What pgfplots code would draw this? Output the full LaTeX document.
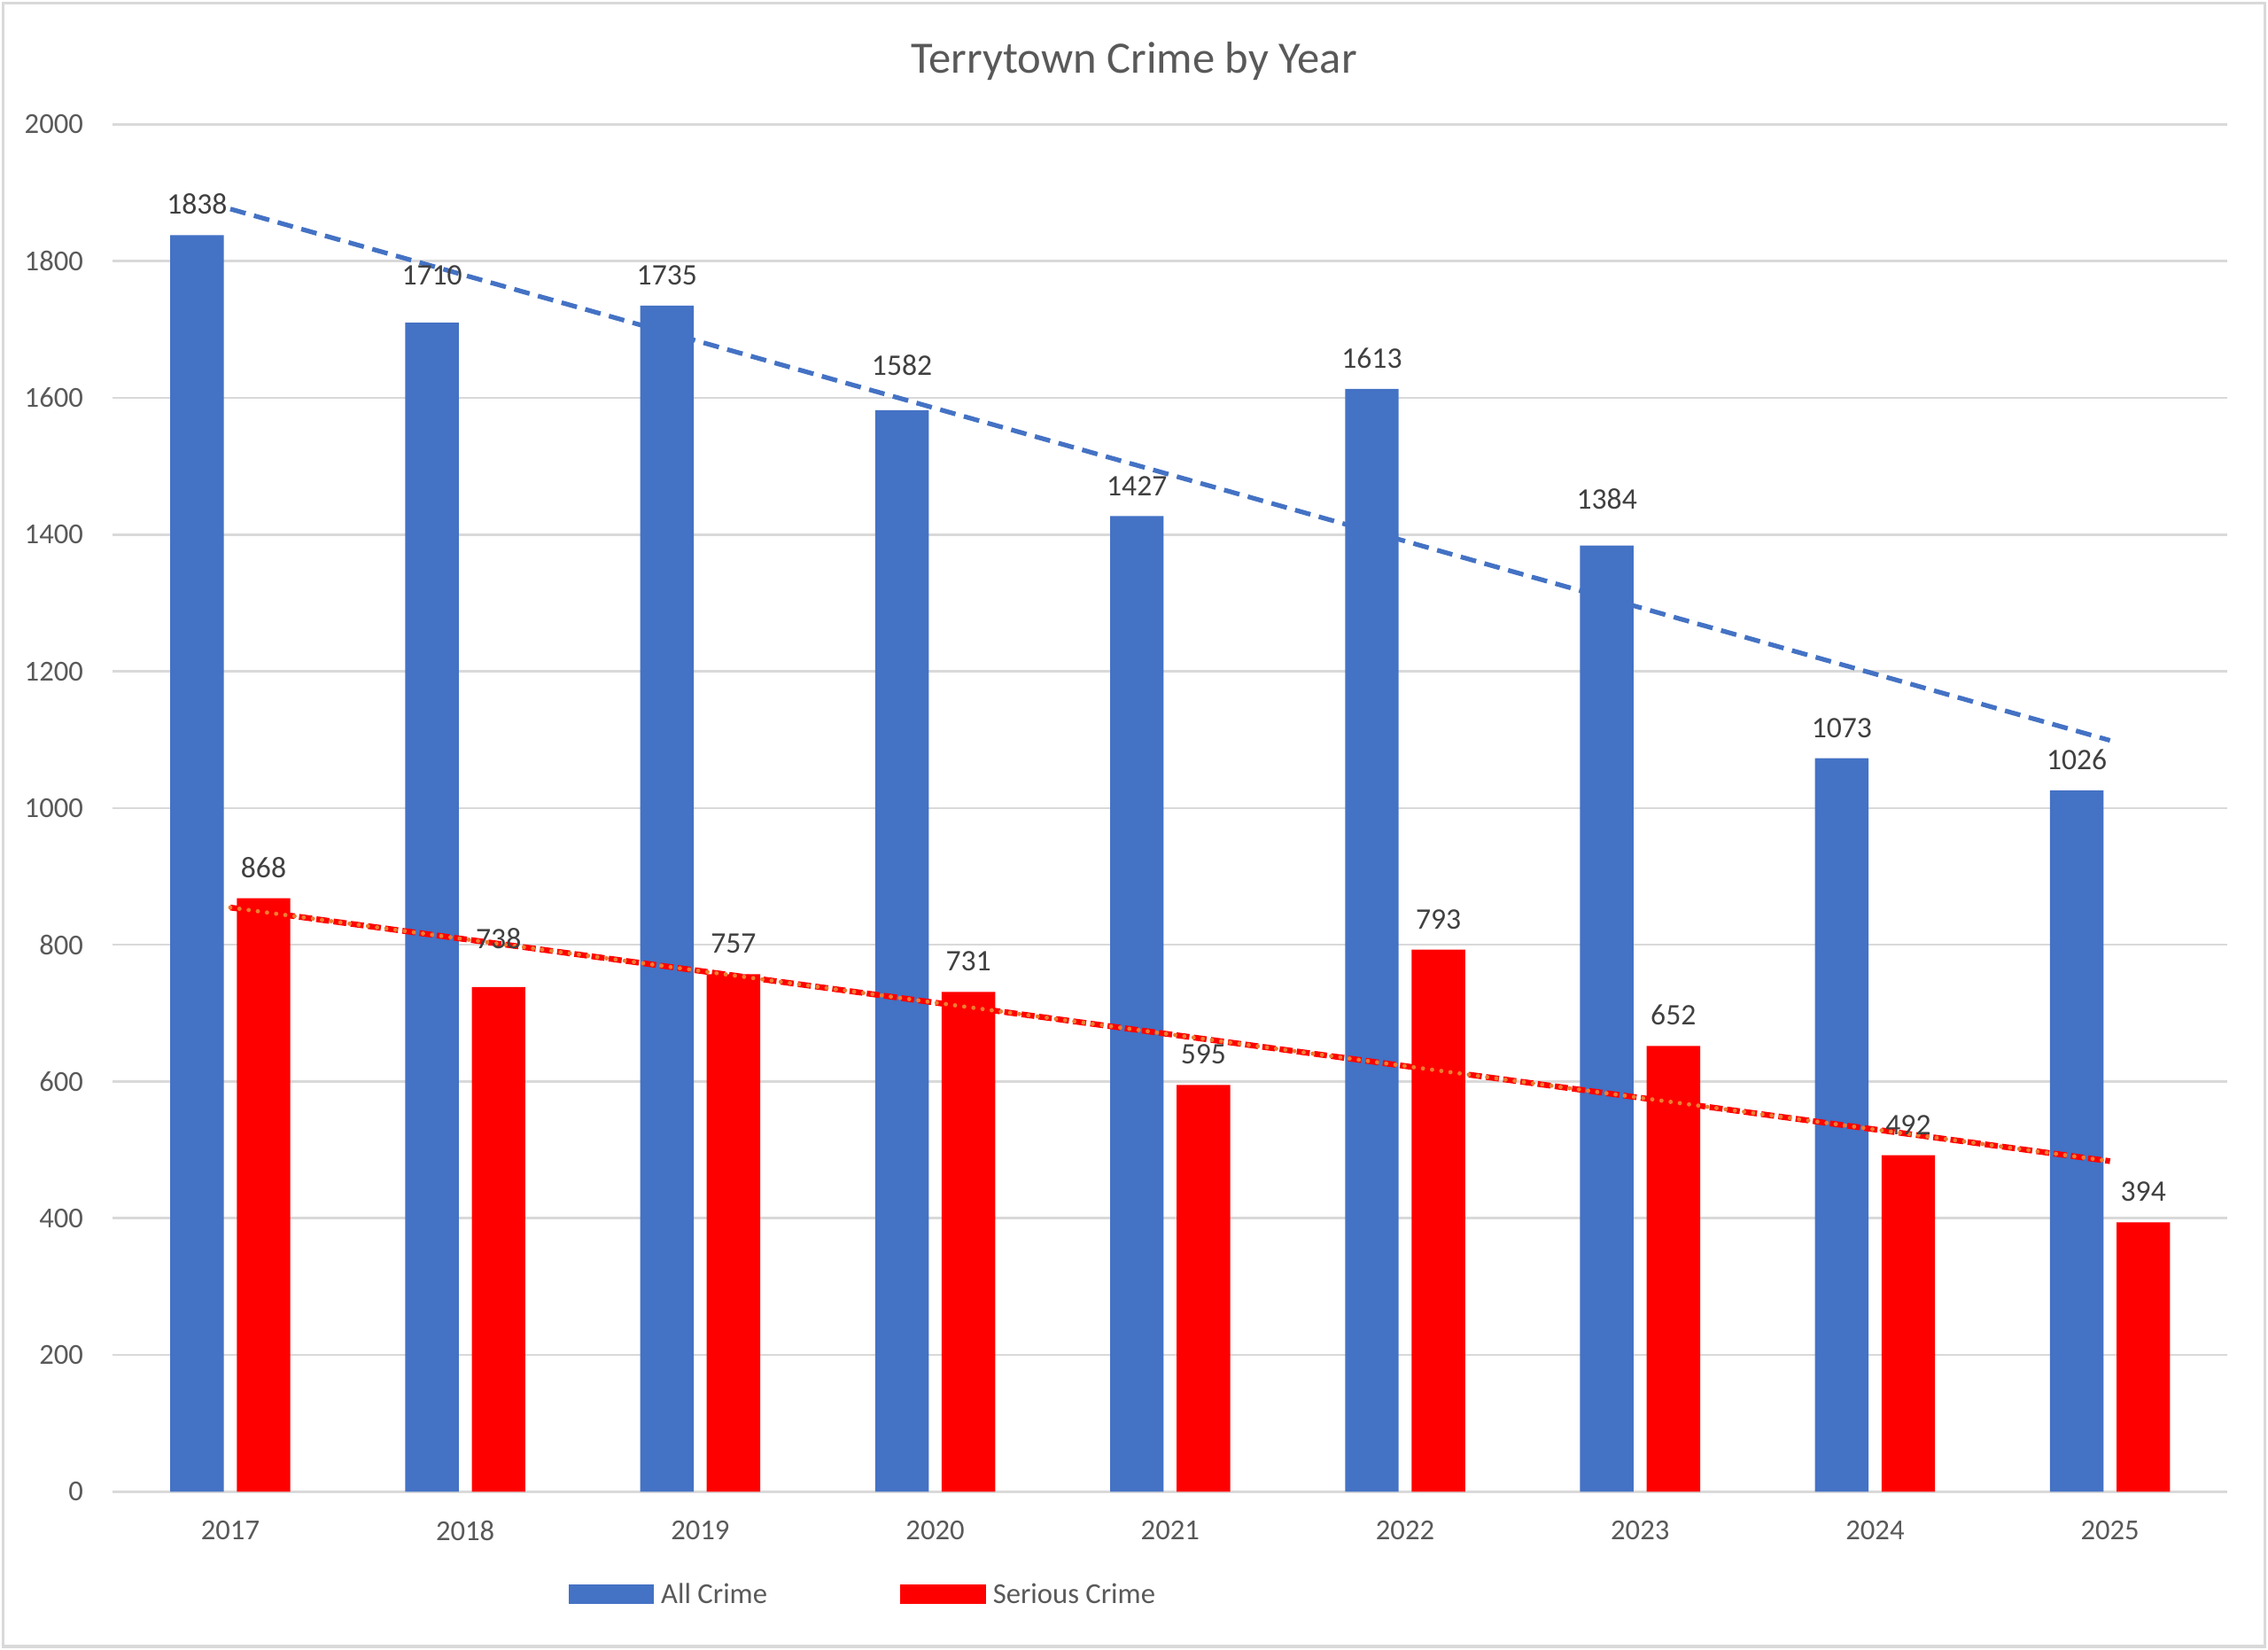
\documentclass[border=0pt]{standalone}
\usepackage{pgfplots}
\usepackage{pgfplotstable}
\pgfplotsset{compat=1.18}
\usepackage{fontspec}
\setmainfont{Carlito}
\definecolor{cblue}{HTML}{4472C4}
\definecolor{cred}{HTML}{FF0000}
\definecolor{corange}{HTML}{ED7D31}
\definecolor{cgrid}{HTML}{D9D9D9}
\definecolor{ctext}{HTML}{595959}
\definecolor{clabel}{HTML}{404040}

\pgfplotstableread{
x y off
0 1838 0
1 1710 6
2 1735 0
3 1582 5
4 1427 0
5 1613 0
6 1384 5.5
7 1073 0
8 1026 0
}\allcrime
\pgfplotstableread{
x y off
0 868 0
1 738 6
2 757 0
3 731 0
4 595 0
5 793 0
6 652 0
7 492 0
8 394 0
}\serious

\begin{document}
\begin{tikzpicture}
\useasboundingbox (0,0) rectangle (784pt,570pt);
\draw[cgrid, line width=1pt] (1pt,1pt) rectangle (783pt,569pt);
\node[font=\fontsize{15.5}{18}\selectfont, text=ctext] at (392pt,549pt) {Terrytown Crime by Year};
\begin{axis}[
  at={(39pt,54.5pt)}, anchor=south west,
  scale only axis, width=731pt, height=472.5pt,
  xmin=-0.5, xmax=8.5, ymin=0, ymax=2000,
  xtick={0,...,8}, xticklabels={2017,2018,2019,2020,2021,2022,2023,2024,2025},
  ytick={0,200,...,2000},
  ymajorgrids, major grid style={cgrid, line width=0.8pt},
  axis x line*=bottom, axis y line*=left,
  x axis line style={cgrid, line width=0.8pt},
  y axis line style={draw=none},
  major tick length=0pt,
  tick label style={font=\fontsize{10}{12}\selectfont, text=ctext},
  /pgf/number format/assume math mode=true,
  /pgf/number format/1000 sep={},
  xticklabel style={yshift=-6.7pt},
  yticklabel style={xshift=-6.7pt},
  clip=false,
  legend style={at={(axis description cs:0.2155,-0.0762)}, anchor=west, draw=none, fill=none,
    inner sep=0pt, outer sep=0pt, font=\fontsize{10}{12}\selectfont, text=ctext,
    /tikz/every even column/.append style={column sep=46pt},
    /tikz/every odd column/.append style={column sep=2.5pt},
    nodes={inner sep=0pt, anchor=base west}},
  legend columns=2,
  legend cell align=left,
]
\addplot[ybar, bar width=18.5pt, bar shift=-11.5pt, fill=cblue, draw=none,
  legend image code/.code={\fill[cblue] (0pt,-0.2pt) rectangle (29.5pt,6.6pt);},
  visualization depends on={\thisrow{off}\as\myoff},
  nodes near coords,
  every node near coord/.append style={font=\fontsize{10.3}{12}\selectfont, text=clabel, anchor=south, inner sep=0pt, xshift=-11.5pt, yshift={6.9pt+\myoff pt}, /pgf/number format/1000 sep={}}]
  table[x=x,y=y] {\allcrime};
\addlegendentry{All Crime}
\addplot[ybar, bar width=18.5pt, bar shift=11.5pt, fill=cred, draw=none,
  legend image code/.code={\fill[cred] (0pt,-0.2pt) rectangle (29.5pt,6.6pt);},
  visualization depends on={\thisrow{off}\as\myoff},
  nodes near coords,
  every node near coord/.append style={font=\fontsize{10.3}{12}\selectfont, text=clabel, anchor=south, inner sep=0pt, xshift=11.5pt, yshift={6.9pt+\myoff pt}, /pgf/number format/1000 sep={}}]
  table[x=x,y=y] {\serious};
\addlegendentry{Serious Crime}
\addplot[cblue, line width=1.6pt, dash pattern=on 5.5pt off 3pt, forget plot] coordinates {(0,1876.3) (8,1098.9)};
\addplot[cred, line width=2pt, dash pattern=on 4.5pt off 1.5pt, forget plot] coordinates {(0,854.4) (8,483.4)};
\addplot[corange, line width=1.5pt, line cap=round, dash pattern=on 0pt off 3.2pt, forget plot] coordinates {(0,854.4) (8,483.4)};
\end{axis}
\end{tikzpicture}
\end{document}
